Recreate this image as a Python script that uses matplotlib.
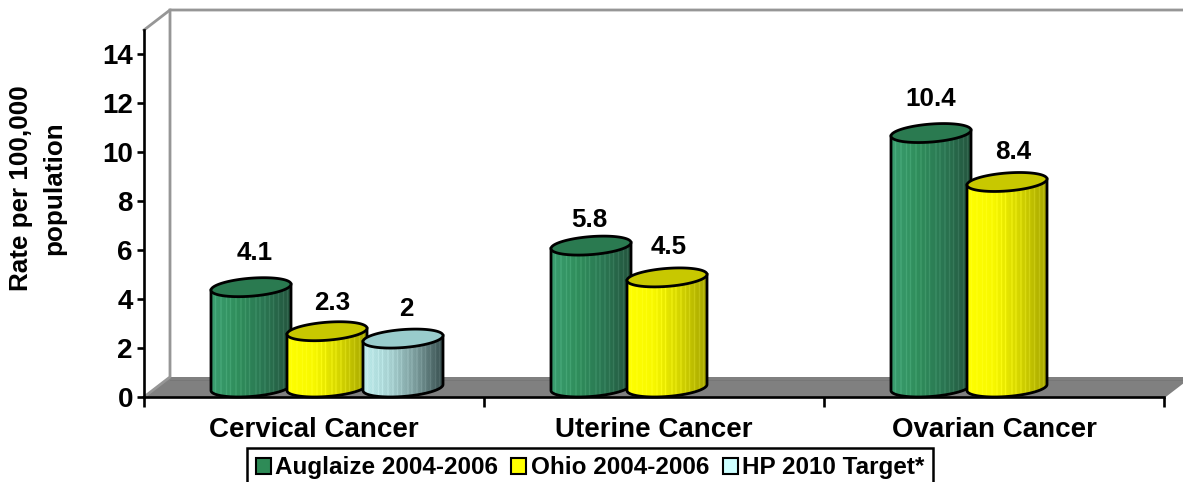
import numpy as np
import matplotlib
matplotlib.use("Agg")
import matplotlib.pyplot as plt
from matplotlib.patches import Patch, Polygon
from matplotlib.path import Path

plt.rcParams['font.family'] = ['Liberation Sans', 'DejaVu Sans']
plt.rcParams['font.weight'] = 'bold'

categories = ["Cervical Cancer", "Uterine Cancer", "Ovarian Cancer"]
series_names = ["Auglaize 2004-2006", "Ohio 2004-2006", "HP 2010 Target*"]
auglaize = [4.1, 5.8, 10.4]
ohio = [2.3, 4.5, 8.4]
hp_target = [2, None, None]
value_labels = [["4.1", "5.8", "10.4"], ["2.3", "4.5", "8.4"], ["2", "", ""]]
y_ticks = [0, 2, 4, 6, 8, 10, 12, 14]

# label nudges in pixels from the cylinder's top centre, per series and category
label_dx = [[4, -2, 0], [5.5, 2, 6], [3, 0, 0]]
label_dy = [[43.5, 35.5, 43.5], [38, 40, 39], [39, 0, 0]]

W, H = 1183, 482
L, R, B, T = 144, 1164, 397, 30
fig = plt.figure(figsize=(W / 100, H / 100), dpi=100, facecolor='white')
ax = fig.add_axes([L / W, 1 - B / H, (R - L) / W, (B - T) / H])
ax.set_xlim(0, 3)
ax.set_ylim(0, 15)
ax.set_autoscale_on(False)
ax.patch.set_visible(False)
px = 3 / (R - L)
py = 15 / (B - T)

# walls and floor
dxw, dyw = 26 * px, 20 * py
ax.add_patch(Polygon([(0, 0), (dxw, dyw), (3 + dxw, dyw), (3, 0)], closed=True,
                     fc='#808080', ec='none', clip_on=False, zorder=1))
ax.plot([0, dxw, dxw], [0, dyw, 15 + dyw], color='#969696', lw=2.0, clip_on=False, zorder=1)
ax.plot([0, dxw, 3 + dxw], [15, 15 + dyw, 15 + dyw], color='#969696', lw=2.0, clip_on=False, zorder=1)
ax.plot([dxw, 3 + dxw], [dyw - 3 * py, dyw - 3 * py], color='#777777', lw=0.7, clip_on=False, zorder=1)
ax.plot([3, 3 + dxw], [0, dyw], color='#808080', lw=1.5, clip_on=False, zorder=1)

# fractions across the cylinder where the lighter streaks sit
streaks = [0.05, 0.12, 0.19, 0.24, 0.31, 0.37, 0.43, 0.48, 0.56, 0.61, 0.67, 0.73, 0.78, 0.84, 0.90, 0.95]
styles = [
    dict(stops=[(58, 158, 112), (48, 142, 92), (42, 118, 82), (36, 84, 62)], top='#2a7a50', dots=False),
    dict(stops=[(255, 255, 0), (248, 248, 0), (212, 212, 0), (165, 165, 0)], top='#c8c800', dots=False),
    dict(stops=[(204, 255, 255), (180, 225, 225), (130, 165, 165), (60, 85, 85)], top='#99cccc', dots=True),
]
legend_colors = ['#2e8b57', '#ffff00', '#ccffff']
n_cols = 160
n_rows = 240


def texture(style):
    stops = np.array(style['stops'], float)
    pos = np.linspace(0, 1, len(stops))
    u = np.linspace(0, 1, n_cols)
    rgb = np.stack([np.interp(u, pos, stops[:, i]) for i in range(3)], axis=1)
    for s in streaks:
        i = int(s * n_cols)
        rgb[i:i + 2] = np.minimum(rgb[i:i + 2] + 22, 255)
    img = np.repeat(rgb[None, :, :], n_rows, axis=0)
    if style['dots']:
        yy, xx = np.mgrid[0:n_rows, 0:n_cols]
        mask = ((xx // 2) + (yy // 2)) % 2 == 0
        img[mask] = img[mask] * 0.86
    return img.astype(np.uint8)


def cylinder(x, value, style, z):
    a = 40 * px
    b = 9 * py
    s = 3 * py
    cx = x + 13 * px
    y0 = 9.5 * py
    y1 = value + 9.5 * py
    t = np.linspace(0, 2 * np.pi, 121)
    arc = lambda yc, tt: np.column_stack([cx + a * np.cos(tt), yc + b * np.sin(tt) + s * np.cos(tt)])
    lower = arc(y0, np.linspace(np.pi, 2 * np.pi, 61))
    outline = np.vstack([[lower[0] + [0, y1 - y0]], lower, [lower[-1] + [0, y1 - y0]]])
    body = np.vstack([outline, arc(y1, np.linspace(0, np.pi, 61))])
    im = ax.imshow(texture(style), extent=[cx - a, cx + a, y0 - 2 * b, y1 + 2 * b],
                   aspect='auto', interpolation='bilinear', zorder=z)
    im.set_clip_path(Path(np.vstack([body, body[:1]])), transform=ax.transData)
    ax.plot(outline[:, 0], outline[:, 1], color='black', lw=2.0, zorder=z + 0.1,
            solid_joinstyle='round', clip_on=False)
    ax.add_patch(Polygon(arc(y1, t), closed=True, fc=style['top'], ec='black', lw=2.0,
                         zorder=z + 0.2, clip_on=False))


series = [auglaize, ohio, hp_target]
step = 76 * px
for c in range(len(categories)):
    for j, vals in enumerate(series):
        v = vals[c]
        if v is None:
            continue
        x = c + 0.5 + (j - 1) * step
        z = 3 + c + j * 0.3
        cylinder(x, v, styles[j], z)
        ax.annotate(value_labels[j][c], xy=(x, v),
                    xytext=((13 + label_dx[j][c]) * 0.72, label_dy[j][c] * 0.72),
                    textcoords='offset points', ha='center', va='center',
                    fontsize=18.7, fontweight='bold', color='black', zorder=20)

ax.set_xlim(0, 3)
ax.set_ylim(0, 15)

for s in ['top', 'right']:
    ax.spines[s].set_visible(False)
for s in ['left', 'bottom']:
    ax.spines[s].set_linewidth(1.9)
    ax.spines[s].set_zorder(2)

ax.set_yticks(y_ticks)
ax.set_yticklabels([str(v) for v in y_ticks], fontsize=20, fontweight='bold')
ax.tick_params(axis='y', length=5, width=1.9, pad=3)
ax.set_xticks([0, 1, 2, 3])
ax.set_xticklabels([])
ax.set_xticks([0.5, 1.5, 2.5], minor=True)
ax.set_xticklabels(categories, minor=True, fontsize=20, fontweight='bold')
ax.tick_params(axis='x', which='major', length=7, width=1.9)
ax.tick_params(axis='x', which='minor', length=0, pad=14.3)

fig.text(37.5 / W, 1 - 188 / H, "Rate per 100,000\npopulation", rotation=90, ha='center',
         va='center', fontsize=18.7, fontweight='bold', linespacing=1.5, multialignment='center')

handles = [Patch(fc=c, ec='black', lw=1.5) for c in legend_colors]
leg = fig.legend(handles, series_names, loc='lower left', bbox_to_anchor=(247 / W, -6 / H),
                 bbox_transform=fig.transFigure, ncol=3, frameon=True, fancybox=False,
                 edgecolor='black', framealpha=1, fontsize=17.5, handlelength=0.62,
                 handleheight=0.62, handletextpad=0.2, columnspacing=0.53, borderpad=0.35,
                 borderaxespad=0)
leg.get_frame().set_linewidth(1.8)

fig.savefig("out.png", dpi=100)
